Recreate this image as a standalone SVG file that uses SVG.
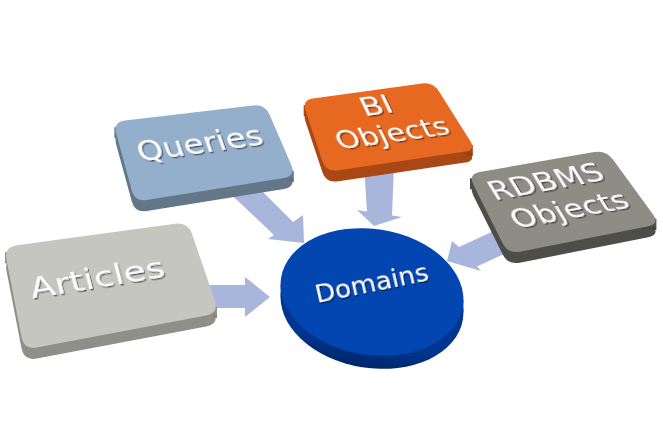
<svg xmlns="http://www.w3.org/2000/svg" xmlns:xlink="http://www.w3.org/1999/xlink" width="663" height="426" viewBox="0 0 663 426">
<style>
.arrow{fill:#A9B6DB}
.lbl{fill:#ffffff;font-family:"DejaVu Sans","Verdana",sans-serif;text-anchor:middle;filter:url(#ts)}
</style>
<defs>
<filter id="ts" x="-10%" y="-30%" width="130%" height="170%">
<feDropShadow dx="1" dy="1.5" stdDeviation="0.6" flood-color="#000" flood-opacity="0.55"/>
</filter>
<path id="fQ" d="M124.9,120.6 L253.1,105.4 Q265,104 269.7,115 L291.3,165 Q296,176 284.2,177.9 L146.8,200.1 Q135,202 131.8,190.4 L116.2,133.6 Q113,122 124.9,120.6 Z"/>
<path id="fA" d="M16.9,245.3 L175.1,223.8 Q188,222 192.2,234.3 L214.8,300.7 Q219,313 206.2,315.4 L36.8,347.6 Q24,350 21.5,337.2 L6.5,259.8 Q4,247 16.9,245.3 Z"/>
<path id="fB" d="M312.9,98.5 L422.1,83.5 Q433,82 438.9,91.3 L470.1,140.7 Q476,150 465.1,151.6 L336.9,170.4 Q326,172 322.5,161.6 L305.5,110.4 Q302,100 312.9,98.5 Z"/>
<path id="fR" d="M479.8,171.9 L594.2,152.1 Q606,150 613.1,159.7 L652.9,214.3 Q660,224 648.2,226.3 L519.8,251.7 Q508,254 502.6,243.3 L473.4,184.7 Q468,174 479.8,171.9 Z"/>
<ellipse id="fD" cx="372" cy="292" rx="92" ry="63" transform="rotate(9 372 292)"/>
<linearGradient id="sQ" gradientUnits="userSpaceOnUse" x1="135" y1="202" x2="136.7" y2="212.8"><stop offset="0" stop-color="#647789"/><stop offset="1" stop-color="#3a4652"/></linearGradient>
<linearGradient id="sA" gradientUnits="userSpaceOnUse" x1="24" y1="350" x2="26" y2="360.6"><stop offset="0" stop-color="#8e8f88"/><stop offset="1" stop-color="#585953"/></linearGradient>
<linearGradient id="sB" gradientUnits="userSpaceOnUse" x1="326" y1="172" x2="327.6" y2="182.9"><stop offset="0" stop-color="#a94814"/><stop offset="1" stop-color="#652606"/></linearGradient>
<linearGradient id="sR" gradientUnits="userSpaceOnUse" x1="508" y1="254" x2="510.1" y2="264.8"><stop offset="0" stop-color="#4e4e48"/><stop offset="1" stop-color="#22221f"/></linearGradient>
<linearGradient id="sD" gradientUnits="userSpaceOnUse" x1="0" y1="330" x2="0" y2="370"><stop offset="0" stop-color="#00368f"/><stop offset="1" stop-color="#001b50"/></linearGradient>
</defs>
<rect width="663" height="426" fill="#ffffff"/>
<g id="connectors">
<polygon class="arrow" points="195,285 245,285 245,277 270,297 245,317 245,308 195,308"/>
<polygon class="arrow" points="230,193.4 261,190 293,222 303,215 304,243 268,239 274,235"/>
<polygon class="arrow" points="364,165 394,165 392,215.4 402,217 374,226 357,210 367,211.6"/>
<polygon class="arrow" points="510,223.4 459,247 452,241 447,261 481,271 477,266.5 515,248.9"/>
</g>
<g id="node-articles">
<g fill="url(#sA)"><use xlink:href="#fA" transform="translate(0,11)"/><polygon points="5,252 217,307 217,318 5,263"/></g>
<use xlink:href="#fA" fill="#C5C6BF"/>
<text class="lbl" font-size="28" textLength="136" lengthAdjust="spacingAndGlyphs" transform="matrix(0.987,-0.161,0.254,0.967,108.75,283)" x="-10" y="3.5">Articles</text>
</g>
<g id="node-queries">
<g fill="url(#sQ)"><use xlink:href="#fQ" transform="translate(0,11)"/><polygon points="114.4,127 293.8,171 293.8,182 114.4,138"/></g>
<use xlink:href="#fQ" fill="#93AFCB"/>
<text class="lbl" font-size="28" textLength="126" lengthAdjust="spacingAndGlyphs" transform="matrix(0.990,-0.139,0.329,0.944,202.25,151)" x="0" y="2">Queries</text>
</g>
<g id="node-bi">
<g fill="url(#sB)"><use xlink:href="#fB" transform="translate(0,11)"/><polygon points="303.7,105 472.8,145 472.8,156 303.7,116"/></g>
<use xlink:href="#fB" fill="#E76820"/>
<g transform="matrix(0.990,-0.141,0.432,0.902,384.25,126)">
<text class="lbl" font-size="27" textLength="31" lengthAdjust="spacingAndGlyphs" x="1.4" y="-13">BI</text>
<text class="lbl" font-size="27" textLength="113" lengthAdjust="spacingAndGlyphs" x="4" y="18">Objects</text>
</g>
</g>
<g id="node-rdbms">
<g fill="url(#sR)"><use xlink:href="#fR" transform="translate(0,11)"/><polygon points="470,178 656.4,219 656.4,230 470,189"/></g>
<use xlink:href="#fR" fill="#8D8C85"/>
<g transform="matrix(0.983,-0.183,0.521,0.854,560.5,200.5)">
<text class="lbl" font-size="28" textLength="114" lengthAdjust="spacingAndGlyphs" x="-3" y="-13">RDBMS</text>
<text class="lbl" font-size="28" textLength="117" lengthAdjust="spacingAndGlyphs" x="3" y="20.5">Objects</text>
</g>
</g>
<g id="node-domains">
<g fill="url(#sD)"><use xlink:href="#fD" transform="translate(0,13)"/><polygon points="280.6,284.4 463.4,299.6 463.4,312.6 280.6,297.4"/></g>
<use xlink:href="#fD" fill="#0346B1"/>
<text class="lbl" font-size="25" textLength="115" lengthAdjust="spacingAndGlyphs" transform="matrix(0.980,-0.199,0.22,0.97,373.5,291.5)" x="0" y="0">Domains</text>
</g>
</svg>
